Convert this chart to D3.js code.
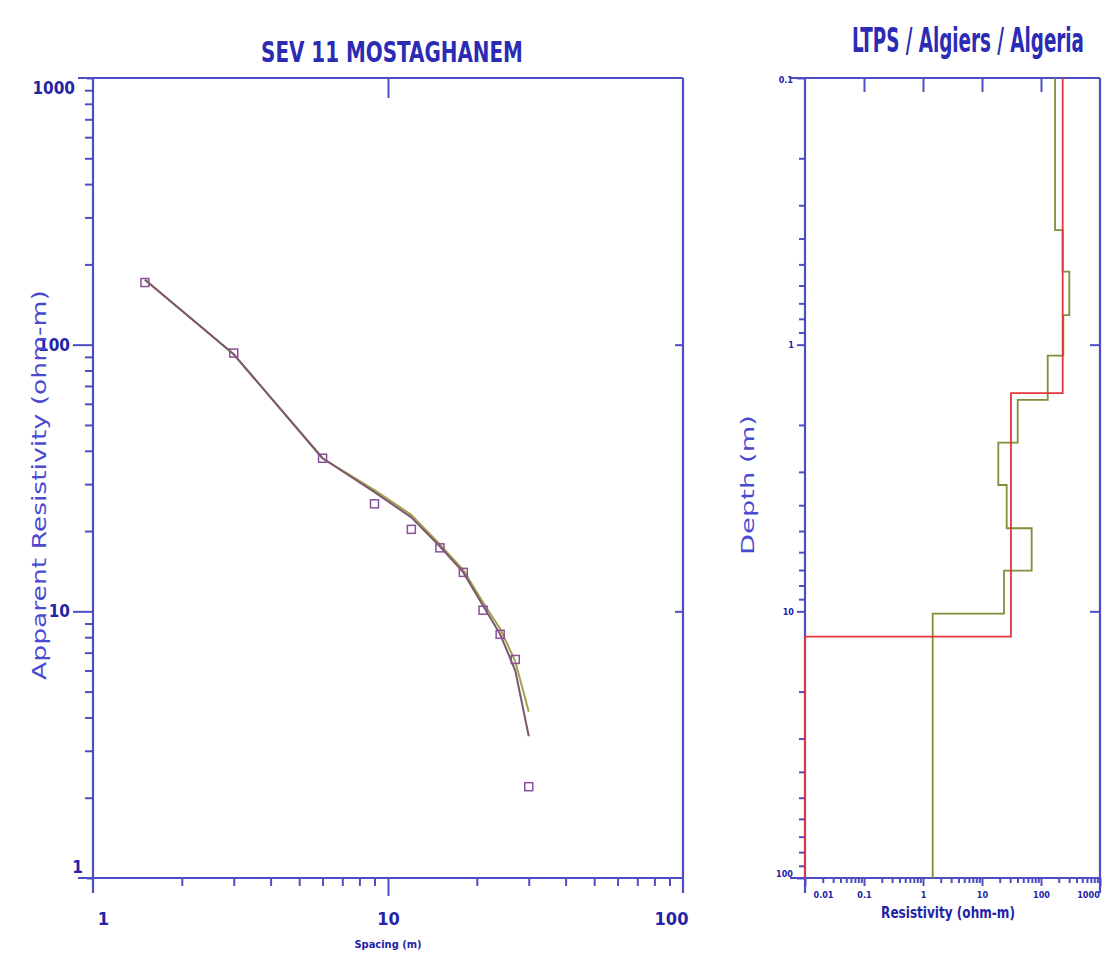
<!DOCTYPE html>
<html>
<head>
<meta charset="utf-8">
<script src="https://cdn.jsdelivr.net/npm/d3@7"></script>
<style>
  body { margin: 0; background: #fff; }
  text { font-family: "Liberation Sans Narrow", "DejaVu Sans Condensed", "Arial Narrow", sans-serif; font-weight: bold; }
</style>
</head>
<body>
<script>
// Sounding data (SEV 11)

const spacing = [1.5, 3, 6, 9, 12, 15, 18, 21, 24, 27, 30];
const observed = [171, 93, 37.5, 25.3, 20.3, 17.3, 14, 10.1, 8.2, 6.6, 2.2];
const calcCurve = [175, 92, 37.5, 28, 22.5, 17.5, 14, 10.5, 8.2, 6.0, 3.4];
const fitCurve = [175, 92, 37.5, 28.5, 23, 17.8, 14.3, 10.8, 8.6, 6.5, 4.2];

// Layered models (resistivity per layer, depth of each layer bottom)

const redRho = [233, 31, 0.01];
const redDepth = [1.52, 12.45];
const greenRho = [173, 233, 302, 239, 130, 40.3, 18.9, 26.2, 69.5, 23.6, 1.46];
const greenDepth = [0.372, 0.532, 0.775, 1.10, 1.61, 2.33, 3.36, 4.88, 7.04, 10.2];

// Tick labels

const leftYLabels = [1, 10, 100, 1000];
const leftXLabels = [1, 10, 100];
const rightYLabels = [0.1, 1, 10, 100];
const rightXLabels = [0.01, 0.1, 1, 10, 100, 1000];

const W = 1105, H = 978;
const axisColor = "#4e4ec4";
const textColor = "#2323a6";

const svg = d3.select("body").append("svg")
  .attr("width", W)
  .attr("height", H);

// squeeze a text horizontally (or along its axis) to a given width
function fitText(cx, cy, str, size, width, color, angle, weight) {
  const t = svg.append("text")
    .attr("text-anchor", "middle")
    .attr("font-size", size)
    .attr("fill", color)
    .style("font-weight", weight || "bold")
    .text(str);
  const w = t.node().getComputedTextLength();
  t.attr("transform", `translate(${cx},${cy}) rotate(${angle || 0}) scale(${width / w},1)`);
  return t;
}

// ---------- left chart ----------

const L = {left: 93, right: 683, top: 78, bottom: 878};

const x = d3.scaleLog().domain([1, 100]).range([L.left, L.right]);
const y = d3.scaleLog().domain([1, 1000]).range([L.bottom, L.top]);

fitText(392, 62, "SEV 11 MOSTAGHANEM", 28, 262, "#2b2bb4");

function frame(g, b) {
  // frame lines overshoot the corners a little, like the original plot
  const o = 15;
  g.append("line").attr("x1", b.left - o).attr("x2", b.right).attr("y1", b.top).attr("y2", b.top);
  g.append("line").attr("x1", b.left - o).attr("x2", b.right).attr("y1", b.bottom).attr("y2", b.bottom);
  g.append("line").attr("x1", b.left).attr("x2", b.left).attr("y1", b.top).attr("y2", b.bottom + o);
  g.append("line").attr("x1", b.right).attr("x2", b.right).attr("y1", b.top).attr("y2", b.bottom + o);
  g.selectAll("line").attr("stroke", axisColor).attr("stroke-width", 2.2);
}

const gL = svg.append("g");
frame(gL, L);

function styleAxis(g) {
  g.select(".domain").remove();
  g.selectAll("line").attr("stroke", axisColor).attr("stroke-width", 2);
  g.selectAll("text").attr("fill", textColor);
}

const isMajor = v => Math.abs(Math.log10(v) - Math.round(Math.log10(v))) < 1e-9;

// left y : minor ticks
svg.append("g")
  .attr("transform", `translate(${L.left},0)`)
  .call(d3.axisLeft(y).tickValues(y.ticks().filter(v => !isMajor(v))).tickSize(8).tickFormat(""))
  .call(styleAxis);

// left y : major ticks and labels
svg.append("g")
  .attr("transform", `translate(${L.left},0)`)
  .call(d3.axisLeft(y).tickValues(leftYLabels).tickSize(20).tickPadding(3).tickFormat(d3.format("d")))
  .call(styleAxis)
  .call(g => g.selectAll("text").attr("font-size", 17))
  .call(g => g.selectAll(".tick").filter(d => d === 1000 || d === 1).select("line").attr("x2", -6))
  .call(g => g.selectAll(".tick").filter(d => d === 1000).select("text").attr("x", -18).attr("dy", "0.9em"))
  .call(g => g.selectAll(".tick").filter(d => d === 1).select("text").attr("x", -10).attr("dy", "-0.3em"));

// left y : ticks on right frame
svg.append("g")
  .attr("transform", `translate(${L.right},0)`)
  .call(d3.axisLeft(y).tickValues([10, 100]).tickSize(8).tickFormat(""))
  .call(styleAxis);

// bottom x : minor ticks
svg.append("g")
  .attr("transform", `translate(0,${L.bottom})`)
  .call(d3.axisBottom(x).tickValues(x.ticks().filter(v => !isMajor(v))).tickSize(8).tickFormat(""))
  .call(styleAxis);

// bottom x : labels
svg.append("g")
  .attr("transform", `translate(0,${L.bottom})`)
  .call(d3.axisBottom(x).tickValues(leftXLabels).tickSize(18).tickPadding(16).tickFormat(d3.format("d")))
  .call(styleAxis)
  .call(g => g.selectAll("text").attr("font-size", 18))
  .call(g => g.selectAll(".tick").filter(d => d !== 10).select("line").remove())
  .call(g => g.selectAll(".tick").filter(d => d === 1).select("text").attr("x", 10))
  .call(g => g.selectAll(".tick").filter(d => d === 100).select("text").attr("x", -12));

// top x : single tick at 10
svg.append("g")
  .attr("transform", `translate(0,${L.top})`)
  .call(d3.axisTop(x).tickValues([10]).tickSize(-20).tickFormat(""))
  .call(styleAxis);

svg.append("text")
  .attr("x", x(10)).attr("y", 948)
  .attr("text-anchor", "middle")
  .attr("font-size", 11)
  .attr("fill", textColor)
  .text("Spacing (m)");

fitText(46, 485, "Apparent Resistivity (ohm-m)", 20, 390, "#4a4ad0", -90, "normal");

// curves
const curve = d3.line()
  .x(d => x(d[0]))
  .y(d => y(d[1]));

svg.append("path")
  .datum(d3.zip(spacing, fitCurve))
  .attr("fill", "none")
  .attr("stroke", "#a3a24a")
  .attr("stroke-width", 2)
  .attr("stroke-linejoin", "round")
  .attr("d", curve);

svg.append("path")
  .datum(d3.zip(spacing, calcCurve))
  .attr("fill", "none")
  .attr("stroke", "#7b5870")
  .attr("stroke-width", 2)
  .attr("stroke-linejoin", "round")
  .attr("d", curve);

svg.selectAll(".obs")
  .data(d3.zip(spacing, observed))
  .enter()
  .append("rect")
  .attr("x", d => x(d[0]) - 4)
  .attr("y", d => y(d[1]) - 4)
  .attr("width", 8)
  .attr("height", 8)
  .attr("fill", "none")
  .attr("stroke", "#8a4f9a")
  .attr("stroke-width", 1.5);

// ---------- right chart ----------

const R = {left: 805, right: 1100, top: 78, bottom: 878};

const xr = d3.scaleLog().domain([0.01, 1000]).range([R.left, R.right]);
const yr = d3.scaleLog().domain([0.1, 100]).range([R.top, R.bottom]);

fitText(968, 52, "LTPS / Algiers / Algeria", 34, 232, "#2b2bb4");

const gR = svg.append("g");
frame(gR, R);

// depth axis
svg.append("g")
  .attr("transform", `translate(${R.left},0)`)
  .call(d3.axisLeft(yr).tickValues(yr.ticks().filter(v => !isMajor(v))).tickSize(6).tickFormat(""))
  .call(styleAxis);

svg.append("g")
  .attr("transform", `translate(${R.left},0)`)
  .call(d3.axisLeft(yr).tickValues(rightYLabels).tickSize(8).tickPadding(3).tickFormat(d => d))
  .call(styleAxis)
  .call(g => g.selectAll("text").attr("font-size", 9))
  .call(g => g.selectAll(".tick").filter(d => d === 0.1).select("text").attr("x", -12).attr("dy", "0.5em"))
  .call(g => g.selectAll(".tick").filter(d => d === 100).select("text").attr("x", -12).attr("dy", "-0.2em"));

svg.append("g")
  .attr("transform", `translate(${R.right},0)`)
  .call(d3.axisLeft(yr).tickValues([1, 10]).tickSize(10).tickFormat(""))
  .call(styleAxis);

// resistivity axis
svg.append("g")
  .attr("transform", `translate(0,${R.bottom})`)
  .call(d3.axisBottom(xr).tickValues(xr.ticks().filter(v => !isMajor(v))).tickSize(5).tickFormat(""))
  .call(styleAxis);

svg.append("g")
  .attr("transform", `translate(0,${R.bottom})`)
  .call(d3.axisBottom(xr).tickValues(rightXLabels).tickSize(8).tickPadding(6).tickFormat(d => d))
  .call(styleAxis)
  .call(g => g.selectAll("text").attr("font-size", 9))
  .call(g => g.selectAll(".tick").filter(d => d === 0.01).select("text").attr("x", 18))
  .call(g => g.selectAll(".tick").filter(d => d === 1000).select("text").attr("x", -12));

svg.append("g")
  .attr("transform", `translate(0,${R.top})`)
  .call(d3.axisTop(xr).tickValues([0.1, 1, 10, 100]).tickSize(-14).tickFormat(""))
  .call(styleAxis);

fitText(948, 918, "Resistivity (ohm-m)", 15, 134, textColor);

fitText(754, 485, "Depth (m)", 18, 140, "#4a4ad0", -90, "normal");

// step models
function steps(rho, depth) {
  const pts = [];
  rho.forEach((r, i) => {
    const top = i === 0 ? yr.domain()[0] : depth[i - 1];
    const bot = i === rho.length - 1 ? yr.domain()[1] : depth[i];
    pts.push([r, top], [r, bot]);
  });
  return pts;
}

const stepLine = d3.line()
  .x(d => xr(d[0]))
  .y(d => yr(d[1]));

svg.append("path")
  .datum(steps(greenRho, greenDepth))
  .attr("fill", "none")
  .attr("stroke", "#7f8f3a")
  .attr("stroke-width", 1.8)
  .attr("d", stepLine);

svg.append("path")
  .datum(steps(redRho, redDepth))
  .attr("fill", "none")
  .attr("stroke", "#e2353a")
  .attr("stroke-width", 1.8)
  .attr("d", stepLine);
</script>
</body>
</html>
